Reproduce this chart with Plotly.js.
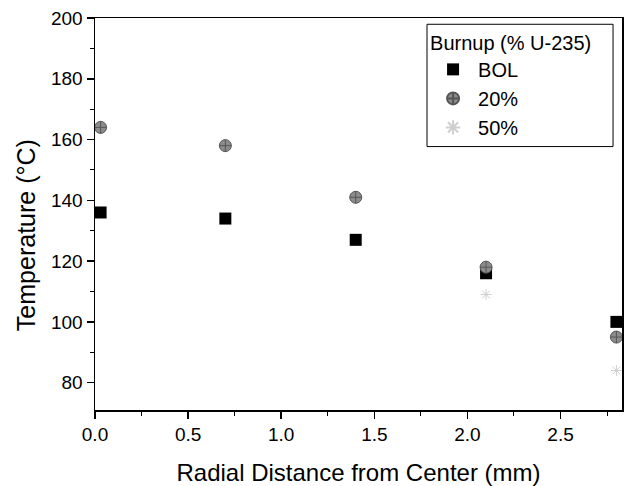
<!DOCTYPE html>
<html>
<head>
<meta charset="utf-8">
<script src="https://cdn.plot.ly/plotly-3.0.1.min.js"></script>
<style>html,body{margin:0;padding:0;background:#fff;}</style>
</head>
<body>
<div id="chart" style="width:624px;height:486px;"></div>
<script>
// Data
const bolX = [0.03, 0.70, 1.40, 2.10, 2.80];
const bolY = [136, 134, 127, 116, 100];
const b20X = [0.03, 0.70, 1.40, 2.10, 2.80];
const b20Y = [164, 158, 141, 118, 95];
const b50X = [2.10, 2.80];
const b50Y = [109, 84];
const seriesNames = ['BOL', '20%', '50%'];
const legendTitle = 'Burnup (% U-235)';
const xTitle = 'Radial Distance from Center (mm)';
const yTitle = 'Temperature (°C)';

const traces = [
  {x: bolX, y: bolY, name: seriesNames[0], type: 'scatter', mode: 'markers',
   marker: {symbol: 'square', size: 12, color: '#000'}},
  {x: b20X, y: b20Y, name: seriesNames[1], type: 'scatter', mode: 'markers',
   marker: {symbol: 'circle-cross', size: 12, color: '#8c8c8c', line: {color: '#555', width: 1}}},
  {x: b50X, y: b50Y, name: seriesNames[2], type: 'scatter', mode: 'markers',
   marker: {symbol: 'asterisk-open', size: 9, color: '#cfcfcf', line: {color: '#cfcfcf', width: 1}}}
];

const font = {family: 'Liberation Sans, Arial, sans-serif', color: '#000'};
const f = (s) => Object.assign({size: s}, font);

const layout = {
  width: 624, height: 486,
  margin: {l: 95, r: 2, t: 18, b: 76},
  paper_bgcolor: '#fff', plot_bgcolor: '#fff',
  font: f(19),
  showlegend: true,
  legend: {
    x: 0.632, y: 0.985, xanchor: 'left', yanchor: 'top',
    bgcolor: 'rgba(0,0,0,0)', borderwidth: 0,
    font: f(20),
    title: {text: legendTitle, font: f(20)},
    itemsizing: 'constant', tracegroupgap: 0, itemwidth: 40
  },
  // legend frame (the reference's box is wider than Plotly's auto-sized legend)
  shapes: [{
    type: 'rect', xref: 'paper', yref: 'paper',
    x0: 0.630, x1: 0.983, y0: 0.672, y1: 0.984,
    line: {color: '#000', width: 1}, fillcolor: '#fff', layer: 'above'
  }],
  xaxis: {
    range: [0, 2.83], tick0: 0, dtick: 0.5, tickformat: '.1f',
    showgrid: false, zeroline: false,
    showline: true, linecolor: '#000', linewidth: 1.5, mirror: true,
    ticks: 'outside', ticklen: 7, tickwidth: 1.5, tickcolor: '#000',
    minor: {dtick: 0.25, ticks: 'outside', ticklen: 4, tickwidth: 1, tickcolor: '#000'},
    tickfont: f(19),
    title: {text: xTitle, font: f(24), standoff: 20}
  },
  yaxis: {
    range: [71, 200], tick0: 80, dtick: 20,
    showgrid: false, zeroline: false,
    showline: true, linecolor: '#000', linewidth: 1.5, mirror: true,
    ticks: 'outside', ticklen: 7, tickwidth: 1.5, tickcolor: '#000',
    minor: {dtick: 10, ticks: 'outside', ticklen: 4, tickwidth: 1, tickcolor: '#000'},
    tickfont: f(19)
  },
  annotations: [{
    text: yTitle, textangle: -90, font: f(25),
    xref: 'paper', yref: 'paper', x: -0.131, y: 0.446,
    xanchor: 'center', yanchor: 'middle', showarrow: false
  }]
};

Plotly.newPlot('chart', traces, layout, {displayModeBar: false, staticPlot: true});
</script>
</body>
</html>
